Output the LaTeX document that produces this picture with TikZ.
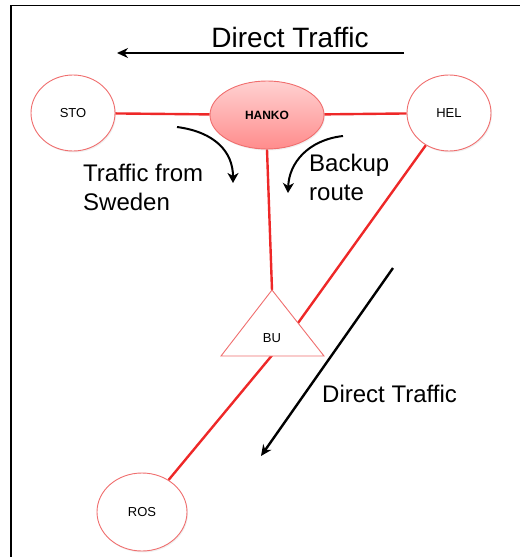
\documentclass[tikz,border=0pt]{standalone}
\usepackage{fontspec}
\setmainfont{Liberation Sans}
\usetikzlibrary{shapes.geometric,arrows.meta,shadows,backgrounds}
\definecolor{linkred}{RGB}{238,40,40}
\definecolor{rimred}{RGB}{240,110,110}

\begin{document}
\begin{tikzpicture}[
  x=1pt, y=-1pt,
  site/.style = {draw=rimred, line width=0.9pt, ellipse, fill=white, inner sep=0pt,
    minimum width=84pt, minimum height=76pt, font=\fontsize{13}{15}\selectfont,
    drop shadow={opacity=0.12, shadow xshift=1pt, shadow yshift=-1.5pt}},
  hub/.style = {draw=rimred, line width=0.9pt, ellipse, top color=red!18, bottom color=red!45,
    minimum width=114pt, minimum height=68pt, font=\bfseries\fontsize{12}{14}\selectfont,
    drop shadow={opacity=0.12, shadow xshift=1pt, shadow yshift=-1.5pt}},
  link/.style = {draw=linkred, line width=2.4pt},
  flow/.style = {draw=black, line width=2.4pt, -{Stealth[length=11pt,width=10pt]}},
  note/.style = {font=\fontsize{24}{29}\selectfont, align=left, inner sep=0pt}
]
  \useasboundingbox (0,0) rectangle (520,557);
  % frame
  \draw[line width=1.3pt] (11,557) -- (11,5.5) -- (520,5.5);

  % sites
  \node[site] (sto) at (73,113) {STO};
  \node[site] (hel) at (449,113) {HEL};
  \node[site, minimum width=90pt, minimum height=78pt] (ros) at (142,512) {ROS};
  \node[hub] (hanko) at (267,115) {HANKO};
  \coordinate (bu-top) at (272,290);
  \coordinate (bu-left) at (221,356);
  \coordinate (bu-right) at (324,356);
  \coordinate (bu-in) at (293,330);
  \draw[draw=rimred, line width=0.9pt, fill=white] (bu-top) -- (bu-right) -- (bu-left) -- cycle;
  \node[font=\fontsize{13}{15}\selectfont] (bu) at (272,338) {BU};

  % links (under the nodes)
  \begin{scope}[on background layer]
    \draw[link] (sto) -- (hanko) -- (hel);
    \draw[link] (hanko.south) -- (bu-top);
    \draw[link] (hel) -- (bu-in) -- (ros);
  \end{scope}

  % traffic notes
  \node[note, anchor=base] (direct-top) at (290,47) {\fontsize{28}{32}\selectfont Direct Traffic};
  \node[note, anchor=north west] (sweden) at (83,164) {Traffic from\\Sweden};
  \node[note, anchor=north west] (backup) at (309,154) {Backup\\route};
  \node[note, anchor=base west] (direct-low) at (322,402) {Direct Traffic};

  % arrows
  \coordinate (top-from) at (404,53);
  \coordinate (top-to) at (117,53);
  \draw[flow] (top-from) -- (top-to);
  \coordinate (swe-from) at (177,127);
  \coordinate (swe-to) at (233,183);
  \draw[flow, line width=2pt, -{Stealth[length=10pt,width=11pt,inset=3pt]}]
    (swe-from) .. controls (215,132) and (233,152) .. (swe-to);
  \coordinate (bak-from) at (343,136);
  \coordinate (bak-to) at (288,193);
  \draw[flow, line width=2pt, -{Stealth[length=10pt,width=11pt,inset=3pt]}]
    (bak-from) .. controls (308,140) and (289,163) .. (bak-to);
  \coordinate (low-from) at (393,268);
  \coordinate (low-to) at (261,456);
  \draw[flow] (low-from) -- (low-to);
\end{tikzpicture}
\end{document}
